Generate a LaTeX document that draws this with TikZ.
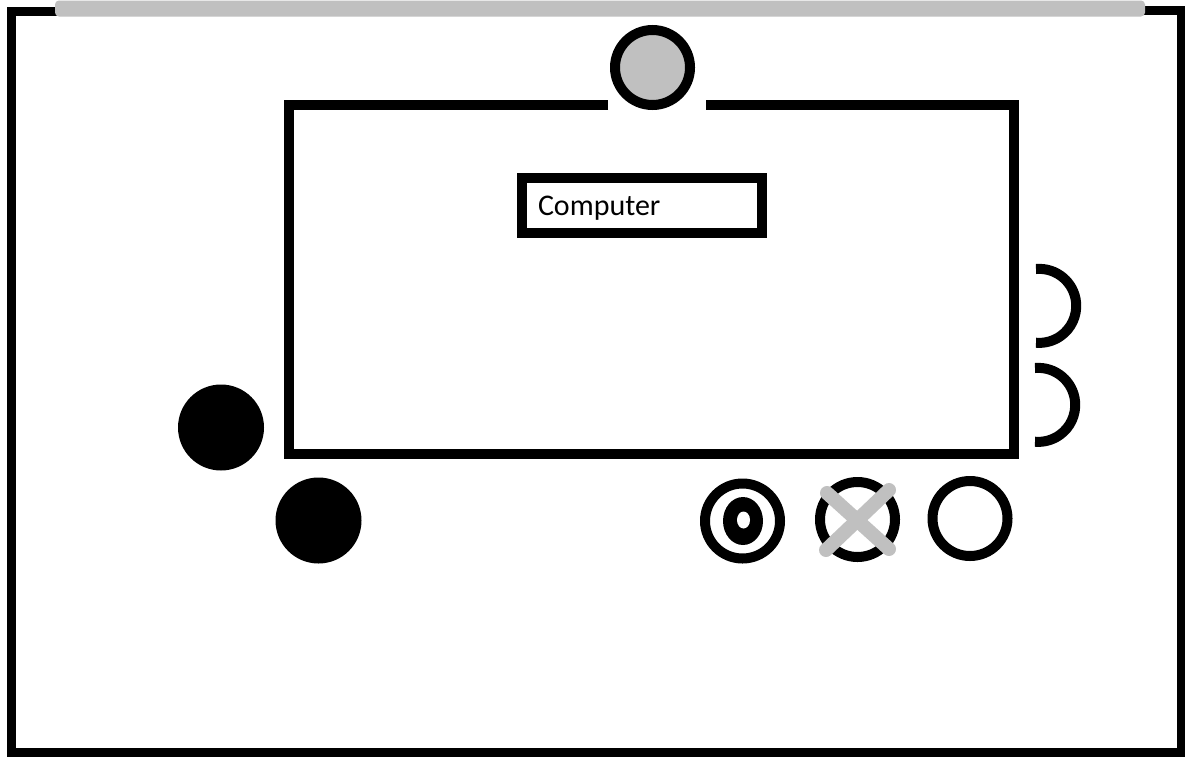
\documentclass[tikz,border=0pt]{standalone}
\usepackage{fontspec}
\setmainfont{Carlito}
\begin{document}
\begin{tikzpicture}[x=1pt,y=-1pt,
  frameline/.style={line width=9pt,line join=miter,black},
  panel/.style={line width=10pt,line join=miter,black},
  ring/.style={circle,draw=black,line width=10pt,minimum size=75pt,inner sep=0pt},
  dot/.style={circle,fill=black,minimum size=86pt,inner sep=0pt},
  lamp/.style={ring,fill=lightgrey},
  compbox/.style={rectangle,draw=black,line width=10pt,minimum width=240pt,minimum height=55pt,
     inner xsep=16pt,text width=208pt,align=left,text height=20pt,text depth=0pt,
     font=\fontsize{30}{32}\selectfont},
  jack/.style={line width=10pt,black},
  cross/.style={line width=14pt,lightgrey,line cap=round}
]
\definecolor{lightgrey}{RGB}{192,192,192}
\useasboundingbox (0,0) rectangle (1185,756);
\fill[white] (0,0) rectangle (1185,756);
% outer frame
\coordinate (tl) at (60,11.5);
\coordinate (tr) at (1140,10);
\draw[frameline] (tl) -- (11.5,11.5) -- (11.5,752) -- (1181.5,752) -- (1181.5,10) -- (tr);
\fill[lightgrey,rounded corners=4pt] (55,0.5) rectangle (1145,16.5);
% inner panel
\coordinate (pl) at (608,104.5);
\coordinate (pr) at (706,104.5);
\draw[panel] (pl) -- (289,104.5) -- (289,454) -- (1014,454) -- (1014,104.5) -- (pr);
% top lamp
\node[lamp] (lampnode) at (652.5,67.5) {};
% computer label
\node[compbox] (comp) at (642,205.5) {Computer};
% right jacks
\draw[jack] (1036,269) arc[start angle=95,end angle=-95,radius=37pt];
\draw[jack] (1035,368) arc[start angle=95,end angle=-95,radius=37pt];
% black dots
\node[dot] (dotA) at (221,427.5) {};
\node[dot] (dotB) at (318.5,520.5) {};
% bottom controls
\node[ring] (target) at (742.5,521) {};
\fill[black] (743,521) ellipse[x radius=20pt,y radius=24pt];
\fill[white] (743.5,520) ellipse[x radius=6.5pt,y radius=8.5pt];
\node[ring] (xbtn) at (857.5,519.5) {};
\draw[cross] (827,493) -- (889,549);
\draw[cross] (889,490) -- (826,550);
\node[ring] (obtn) at (970,518.5) {};
\end{tikzpicture}
\end{document}
